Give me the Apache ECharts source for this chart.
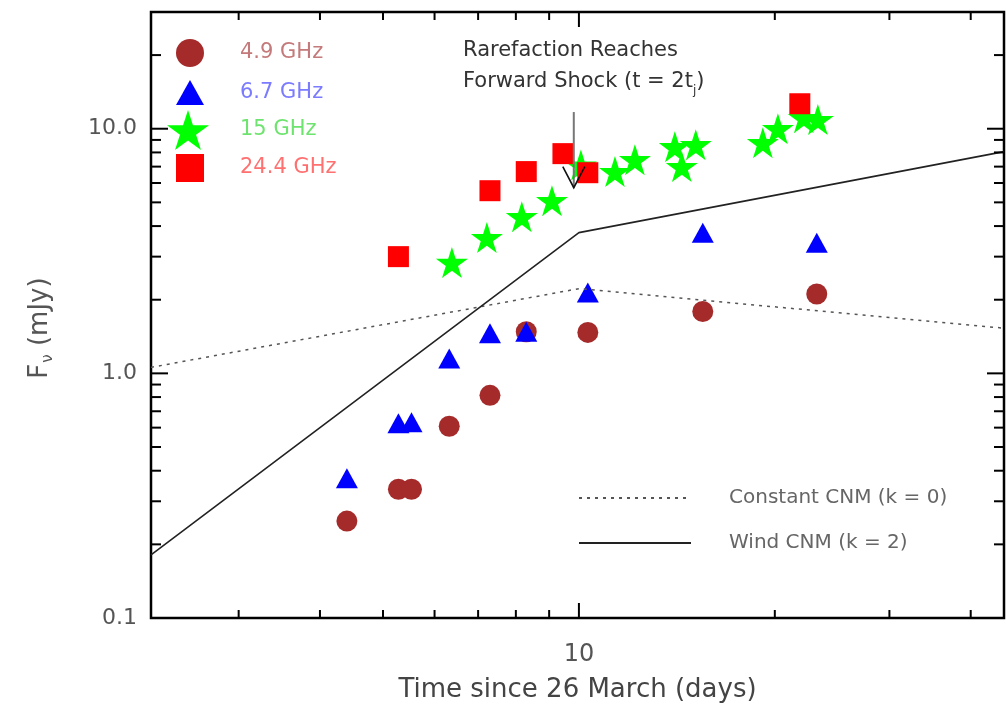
<!DOCTYPE html>
<html><head><meta charset="utf-8">
<script src="https://cdn.jsdelivr.net/npm/echarts@6/dist/echarts.min.js"></script>
<style>html,body{margin:0;padding:0;background:#fff}#c{width:1007px;height:705px}</style>
</head><body><div id="c"></div>
<script>
// ---- axis ranges & ticks ----
const xRange = [2.2, 45];
const yRange = [0.1, 30];
const xLabelVals = [10];
const xLabelTexts = ['10'];
const yLabelVals = [0.1, 1, 10];
const yLabelTexts = ['0.1', '1.0', '10.0'];
const xMinorTicks = [3, 4, 5, 6, 7, 8, 9, 20, 30, 40];
const xMajorTicks = [10];
const yMinorTicks = [0.2, 0.3, 0.4, 0.5, 0.6, 0.7, 0.8, 0.9, 2, 3, 4, 5, 6, 7, 8, 9, 20];
const yMajorTicks = [1, 10];

// ---- data (days, mJy) ----
const t49 = [4.40, 5.28, 5.53, 6.32, 7.30, 8.30, 10.32, 15.5, 23.2];
const f49 = [0.249, 0.336, 0.336, 0.608, 0.813, 1.48, 1.47, 1.79, 2.11];
const t67 = [4.40, 5.28, 5.53, 6.32, 7.30, 8.30, 10.32, 15.5, 23.2];
const f67 = [0.373, 0.625, 0.631, 1.15, 1.46, 1.48, 2.14, 3.76, 3.42];
const t15 = [6.38, 7.22, 8.17, 9.09, 10.07, 11.36, 12.19, 14.04, 14.39, 15.12, 19.17, 20.22, 22.16, 23.29];
const f15 = [2.84, 3.59, 4.37, 5.08, 7.1, 6.68, 7.47, 8.44, 7.0, 8.6, 8.77, 10.0, 11.1, 10.9];
const t244 = [5.28, 7.30, 8.30, 9.45, 10.32, 21.85];
const f244 = [3.00, 5.58, 6.68, 7.91, 6.61, 12.65];
const tModel = [2.2, 10, 45];
const fConst = [1.058, 2.22, 1.53];
const fWind = [0.181, 3.76, 8.06];
const arrowT = 9.82, arrowFrom = 11.7, arrowTo = 5.74;

const zip = (a, b) => a.map((v, i) => [v, b[i]]);
const FONT = 'DejaVu Sans';
const STAR = 'path://M50,0 L61.2,34.5 L97.6,34.5 L68.2,55.9 L79.4,90.5 L50,69.1 L20.6,90.5 L31.8,55.9 L2.4,34.5 L38.8,34.5 Z';
const lookup = (vals, texts, v) => { const i = vals.findIndex(x => Math.abs(Math.log10(x) - Math.log10(v)) < 1e-6); return i >= 0 ? texts[i] : ''; };

const xTickData = xMinorTicks.map(v => [v, 1, 0]).concat(xMajorTicks.map(v => [v, 1, 1]));
const yTickData = yMinorTicks.map(v => [3, v, 0]).concat(yMajorTicks.map(v => [3, v, 1]));
const tickStyle = { stroke: '#000', lineWidth: 2 };

const chart = echarts.init(document.getElementById('c'), null, { renderer: 'canvas' });
chart.setOption({
  animation: false,
  backgroundColor: '#fff',
  grid: { left: 151, right: 3, top: 12, bottom: 87, outerBoundsMode: 'none', containLabel: false, show: true, borderColor: '#000', borderWidth: 2.5, backgroundColor: 'transparent' },
  xAxis: {
    type: 'log', logBase: 10, min: xRange[0], max: xRange[1],
    axisLine: { show: false }, axisTick: { show: false }, splitLine: { show: false }, minorTick: { show: false },
    axisLabel: { formatter: v => lookup(xLabelVals, xLabelTexts, v), fontFamily: FONT, fontSize: 24, color: '#555', margin: 25, showMinLabel: false, showMaxLabel: false },
    name: 'Time since 26 March (days)', nameLocation: 'middle', nameGap: 59,
    nameTextStyle: { fontFamily: FONT, fontSize: 26, color: '#444' }
  },
  yAxis: {
    type: 'log', logBase: 10, min: yRange[0], max: yRange[1],
    axisLine: { show: false }, axisTick: { show: false }, splitLine: { show: false }, minorTick: { show: false },
    axisLabel: { formatter: v => lookup(yLabelVals, yLabelTexts, v), fontFamily: FONT, fontSize: 22, color: '#555', margin: 14, showMaxLabel: false }
  },
  legend: [
    { data: [{ name: '4.9 GHz', icon: 'circle' }], left: 176, top: 39, padding: 0, itemWidth: 28, itemHeight: 28, selectedMode: false,
      textStyle: { fontFamily: FONT, fontSize: 21, color: '#c47a7a', padding: [0, 0, 0, 31] } },
    { data: [{ name: '6.7 GHz', icon: 'triangle' }], left: 176, top: 80, padding: 0, itemWidth: 28, itemHeight: 25, selectedMode: false,
      textStyle: { fontFamily: FONT, fontSize: 21, color: '#7b7bff', padding: [0, 0, 0, 31] } },
    { data: [{ name: '15 GHz', icon: STAR }], left: 167, top: 110, padding: 0, itemWidth: 42, itemHeight: 40, selectedMode: false,
      textStyle: { fontFamily: FONT, fontSize: 21, color: '#6fe36f', padding: [0, 0, 0, 26] } },
    { data: [{ name: '24.4 GHz', icon: 'rect' }], left: 176, top: 154, padding: 0, itemWidth: 28, itemHeight: 28, selectedMode: false,
      textStyle: { fontFamily: FONT, fontSize: 21, color: '#ff7070', padding: [0, 0, 0, 31] } },
    { data: ['Constant CNM (k = 0)'], left: 578, top: 488, padding: 0, itemWidth: 112, itemHeight: 20, selectedMode: false,
      itemStyle: { opacity: 0 },
      textStyle: { fontFamily: FONT, fontSize: 20, color: '#666', padding: [0, 0, 0, 33] } },
    { data: ['Wind CNM (k = 2)'], left: 578, top: 533, padding: 0, itemWidth: 112, itemHeight: 20, selectedMode: false,
      itemStyle: { opacity: 0 },
      textStyle: { fontFamily: FONT, fontSize: 20, color: '#666', padding: [0, 0, 0, 33] } }
  ],
  graphic: [
    { type: 'text', x: 40, y: 328, rotation: Math.PI / 2,
      style: { text: '{a|F}{s|ν}{a| (mJy)}', align: 'center', verticalAlign: 'middle',
        rich: { a: { fontFamily: FONT, fontSize: 26, fill: '#555', lineHeight: 32 }, s: { fontFamily: FONT, fontSize: 15, fill: '#555', lineHeight: 32, verticalAlign: 'bottom', padding: [0, 0, 0, 1] } } } },
    { type: 'text', x: 463, y: 35,
      style: { text: '{a|Rarefaction Reaches}\n{a|Forward Shock (t = 2t}{s|j}{a|)}',
        rich: { a: { fontFamily: FONT, fontSize: 21, fill: '#333', lineHeight: 31 }, s: { fontFamily: FONT, fontSize: 12, fill: '#333', lineHeight: 31, verticalAlign: 'bottom' } } } }
  ],
  series: [
    { type: 'line', name: 'Constant CNM (k = 0)', data: zip(tModel, fConst), symbol: 'none', silent: true,
      lineStyle: { color: '#555', width: 1.5, type: [3, 5] }, itemStyle: { color: '#555' } },
    { type: 'line', name: 'Wind CNM (k = 2)', data: zip(tModel, fWind), symbol: 'none', silent: true,
      lineStyle: { color: '#222', width: 1.6 }, itemStyle: { color: '#222' } },
    { type: 'scatter', name: '4.9 GHz', data: zip(t49, f49), symbol: 'circle', symbolSize: 21, itemStyle: { color: '#a52a2a', opacity: 1 } },
    { type: 'scatter', name: '6.7 GHz', data: zip(t67, f67), symbol: 'triangle', symbolSize: [22, 20], itemStyle: { color: '#0000ff', opacity: 1 } },
    { type: 'scatter', name: '15 GHz', data: zip(t15, f15), symbol: STAR, symbolSize: [32, 31], itemStyle: { color: '#00ff00', opacity: 1 } },
    { type: 'scatter', name: '24.4 GHz', data: zip(t244, f244), symbol: 'rect', symbolSize: 21, itemStyle: { color: '#ff0000', opacity: 1 } },
    { type: 'custom', silent: true, z: 10, data: [[arrowT, arrowFrom, arrowTo]], encode: { x: 0, y: [1, 2] },
      renderItem: (p, api) => {
        const a = api.coord([api.value(0), api.value(1)]);
        const b = api.coord([api.value(0), api.value(2)]);
        return { type: 'group', children: [
          { type: 'line', shape: { x1: a[0], y1: a[1], x2: b[0], y2: b[1] }, style: { stroke: '#777', lineWidth: 2 } },
          { type: 'polyline', shape: { points: [[b[0] - 11, b[1] - 21], [b[0], b[1]], [b[0] + 11, b[1] - 21]] }, style: { stroke: '#111', lineWidth: 1.6, fill: null } }
        ] };
      } },
    { type: 'custom', silent: true, z: 20, data: xTickData, encode: { x: 0, y: 1 }, clip: false,
      renderItem: (p, api) => {
        const cs = p.coordSys;
        const x = api.coord([api.value(0), api.value(1)])[0];
        const len = api.value(2) ? 15 : 8;
        const yb = cs.y + cs.height, yt = cs.y;
        return { type: 'group', children: [
          { type: 'line', shape: { x1: x, y1: yb, x2: x, y2: yb - len }, style: tickStyle },
          { type: 'line', shape: { x1: x, y1: yt, x2: x, y2: yt + len }, style: tickStyle }
        ] };
      } },
    { type: 'custom', silent: true, z: 20, data: yTickData, encode: { x: 0, y: 1 }, clip: false,
      renderItem: (p, api) => {
        const cs = p.coordSys;
        const y = api.coord([api.value(0), api.value(1)])[1];
        const len = api.value(2) ? 17 : 10;
        const xl = cs.x, xr = cs.x + cs.width;
        return { type: 'group', children: [
          { type: 'line', shape: { x1: xl, y1: y, x2: xl + len, y2: y }, style: tickStyle },
          { type: 'line', shape: { x1: xr, y1: y, x2: xr - len, y2: y }, style: tickStyle }
        ] };
      } }
  ]
});
</script>
</body></html>
